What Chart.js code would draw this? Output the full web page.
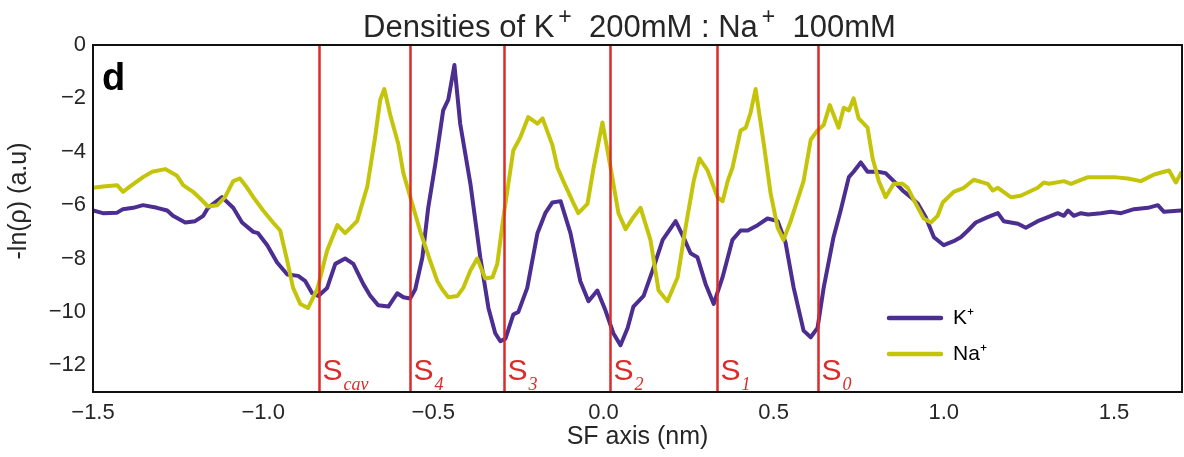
<!DOCTYPE html>
<html>
<head>
<meta charset="utf-8">
<title>Densities of K+ 200mM : Na+ 100mM</title>
<script src="https://cdn.jsdelivr.net/npm/chart.js@4.4.1/dist/chart.umd.min.js"></script>
<style>
  html, body { margin: 0; padding: 0; background: #fff; }
  canvas { display: block; }
</style>
</head>
<body>
<canvas id="densities" width="1184" height="457"></canvas>
<script>
'use strict';

// Position along the SF axis (nm) and -ln(rho) for K+
const kAxis = [
    -1.500, -1.471, -1.429, -1.412, -1.382, -1.353, -1.312, -1.282, -1.265, -1.229,
    -1.200, -1.176, -1.162, -1.121, -1.088, -1.062, -1.029, -1.015, -0.988, -0.959,
    -0.929, -0.897, -0.876, -0.856, -0.838, -0.812, -0.788, -0.759, -0.735, -0.706,
    -0.685, -0.662, -0.632, -0.606, -0.588, -0.568, -0.553, -0.532, -0.515, -0.494,
    -0.471, -0.456, -0.438, -0.421, -0.391, -0.362, -0.338, -0.318, -0.303, -0.288,
    -0.265, -0.250, -0.224, -0.194, -0.171, -0.150, -0.126, -0.097, -0.068, -0.044,
    -0.018, 0.006, 0.029, 0.050, 0.071, 0.088, 0.118, 0.147, 0.174, 0.212,
    0.235, 0.256, 0.276, 0.300, 0.324, 0.350, 0.379, 0.403, 0.424, 0.453,
    0.482, 0.512, 0.535, 0.559, 0.588, 0.609, 0.629, 0.647, 0.676, 0.697,
    0.721, 0.735, 0.756, 0.776, 0.806, 0.829, 0.853, 0.879, 0.903, 0.924,
    0.947, 0.971, 1.000, 1.029, 1.050, 1.071, 1.094, 1.129, 1.159, 1.176,
    1.218, 1.241, 1.276, 1.306, 1.335, 1.353, 1.365, 1.382, 1.403, 1.424,
    1.462, 1.491, 1.521, 1.559, 1.600, 1.629, 1.647, 1.697
];
const kDensity = [
    -6.20, -6.30, -6.28, -6.15, -6.10, -6.00, -6.10, -6.20, -6.40, -6.65,
    -6.60, -6.40, -6.10, -5.70, -6.10, -6.65, -7.00, -7.05, -7.50, -8.15,
    -8.60, -8.65, -8.85, -9.30, -9.40, -9.10, -8.20, -8.00, -8.20, -8.95,
    -9.40, -9.75, -9.80, -9.30, -9.45, -9.50, -9.15, -7.95, -6.10, -4.45,
    -2.45, -2.05, -0.75, -2.95, -5.20, -7.95, -9.85, -10.80, -11.10, -11.00,
    -10.10, -10.00, -9.10, -7.05, -6.30, -5.90, -5.85, -7.05, -8.85, -9.60,
    -9.20, -9.95, -10.80, -11.25, -10.60, -9.80, -9.40, -8.35, -7.30, -6.60,
    -7.20, -7.80, -7.95, -8.95, -9.70, -8.70, -7.30, -6.95, -6.95, -6.75,
    -6.50, -6.60, -7.40, -9.10, -10.70, -10.95, -10.60, -9.10, -7.20, -6.20,
    -4.95, -4.75, -4.40, -4.75, -4.75, -4.80, -5.10, -5.45, -5.70, -5.95,
    -6.45, -7.20, -7.50, -7.35, -7.20, -6.95, -6.65, -6.45, -6.30, -6.60,
    -6.70, -6.85, -6.60, -6.45, -6.30, -6.40, -6.20, -6.40, -6.30, -6.35,
    -6.30, -6.25, -6.30, -6.15, -6.10, -6.00, -6.25, -6.20
];

// Position along the SF axis (nm) and -ln(rho) for Na+
const naAxis = [
    -1.500, -1.471, -1.429, -1.412, -1.391, -1.353, -1.326, -1.288, -1.253, -1.235,
    -1.206, -1.185, -1.162, -1.135, -1.112, -1.088, -1.068, -1.047, -1.029, -1.000,
    -0.971, -0.950, -0.929, -0.912, -0.891, -0.868, -0.841, -0.812, -0.782, -0.759,
    -0.724, -0.694, -0.671, -0.656, -0.644, -0.626, -0.603, -0.588, -0.562, -0.538,
    -0.509, -0.488, -0.474, -0.456, -0.429, -0.412, -0.391, -0.371, -0.347, -0.326,
    -0.312, -0.294, -0.265, -0.244, -0.221, -0.194, -0.179, -0.150, -0.135, -0.118,
    -0.091, -0.074, -0.047, -0.029, -0.003, 0.021, 0.044, 0.065, 0.088, 0.109,
    0.138, 0.162, 0.188, 0.218, 0.241, 0.265, 0.282, 0.306, 0.335, 0.350,
    0.365, 0.379, 0.403, 0.418, 0.432, 0.447, 0.471, 0.491, 0.512, 0.529,
    0.550, 0.588, 0.609, 0.629, 0.647, 0.665, 0.691, 0.706, 0.721, 0.735,
    0.750, 0.776, 0.791, 0.809, 0.829, 0.853, 0.879, 0.894, 0.918, 0.941,
    0.962, 0.982, 0.997, 1.029, 1.059, 1.088, 1.129, 1.144, 1.159, 1.197,
    1.226, 1.276, 1.294, 1.309, 1.353, 1.374, 1.403, 1.424, 1.462, 1.500,
    1.541, 1.579, 1.618, 1.647, 1.662, 1.682, 1.697
];
const naDensity = [
    -5.35, -5.30, -5.25, -5.50, -5.30, -4.95, -4.75, -4.65, -4.90, -5.25,
    -5.50, -5.75, -6.05, -6.00, -5.70, -5.10, -5.00, -5.35, -5.70, -6.20,
    -6.65, -6.95, -8.10, -9.10, -9.70, -9.85, -9.15, -7.70, -6.75, -7.05,
    -6.60, -5.30, -3.45, -2.05, -1.65, -2.65, -3.70, -4.80, -5.95, -7.00,
    -8.10, -8.85, -9.15, -9.45, -9.40, -9.10, -8.45, -8.00, -8.75, -8.70,
    -8.20, -6.45, -3.95, -3.45, -2.70, -2.95, -2.75, -3.75, -4.60, -5.10,
    -5.85, -6.30, -5.95, -4.60, -2.90, -4.60, -6.30, -6.90, -6.45, -6.10,
    -7.30, -9.20, -9.60, -8.70, -6.85, -5.10, -4.25, -4.70, -5.70, -5.85,
    -5.10, -4.60, -3.20, -3.10, -2.55, -1.65, -3.70, -5.55, -6.85, -7.30,
    -6.60, -5.10, -3.55, -3.20, -3.00, -2.25, -3.10, -2.35, -2.45, -2.00,
    -2.75, -3.10, -4.25, -5.10, -5.70, -5.20, -5.20, -5.35, -5.95, -6.50,
    -6.65, -6.40, -5.90, -5.50, -5.35, -5.05, -5.20, -5.45, -5.35, -5.70,
    -5.65, -5.35, -5.15, -5.20, -5.10, -5.20, -5.05, -4.95, -4.95, -4.95,
    -5.00, -5.10, -4.85, -4.75, -4.70, -5.15, -4.80
];

// Binding sites along the filter
const siteNames = ['cav', '4', '3', '2', '1', '0'];
const sitePositions = [-0.835, -0.568, -0.291, 0.018, 0.335, 0.629];

const xTicks = [-1.5, -1.0, -0.5, 0.0, 0.5, 1.0, 1.5];
const xTickLabels = ['\u22121.5', '\u22121.0', '\u22120.5', '0.0', '0.5', '1.0', '1.5'];
const yTicks = [0, -2, -4, -6, -8, -10, -12];
const yTickLabels = ['0', '\u22122', '\u22124', '\u22126', '\u22128', '\u221210', '\u221212'];

const SANS = '"Liberation Sans", Arial, sans-serif';
const TEXT = '#262626';
const SITE_RED = '#dd2a2a';

function toPoints(xs, ys) {
    return xs.map((x, i) => ({ x: x, y: ys[i] }));
}

// Vertical site markers with S-labels (subscript in math italic)
const siteLines = {
    id: 'siteLines',
    afterDatasetsDraw(chart) {
        const { ctx, chartArea: area, scales: { x } } = chart;
        ctx.save();
        ctx.strokeStyle = SITE_RED;
        ctx.fillStyle = SITE_RED;
        ctx.lineWidth = 2.5;
        sitePositions.forEach((pos, i) => {
            const px = Math.round(x.getPixelForValue(pos)) + 0.5;
            ctx.beginPath();
            ctx.moveTo(px, area.top);
            ctx.lineTo(px, area.bottom);
            ctx.stroke();

            ctx.textAlign = 'left';
            ctx.textBaseline = 'alphabetic';
            ctx.font = '30px ' + SANS;
            ctx.fillText('S', px + 3, area.bottom - 12);
            const sw = ctx.measureText('S').width;
            ctx.font = 'italic 18px "Liberation Serif", "DejaVu Serif", serif';
            ctx.fillText(siteNames[i], px + 4 + sw, area.bottom - 2);
        });
        ctx.restore();
    }
};

// Axes frame, panel letter, titles and inset legend
const panelDecor = {
    id: 'panelDecor',
    afterDraw(chart) {
        const { ctx, chartArea: area } = chart;
        ctx.save();

        ctx.strokeStyle = '#111';
        ctx.lineWidth = 2;
        ctx.strokeRect(area.left, area.top, area.right - area.left, area.bottom - area.top);

        ctx.fillStyle = '#000';
        ctx.font = 'bold 38px ' + SANS;
        ctx.textAlign = 'left';
        ctx.textBaseline = 'alphabetic';
        ctx.fillText('d', area.left + 9, area.top + 45);

        // title with raised "+" signs
        const parts = [
            { t: 'Densities of K', sup: false },
            { t: '+', sup: true },
            { t: '  200mM : Na', sup: false },
            { t: '+', sup: true },
            { t: '  100mM', sup: false }
        ];
        const mainFont = '31px ' + SANS;
        const supFont = '23px ' + SANS;
        let total = 0;
        parts.forEach(p => {
            ctx.font = p.sup ? supFont : mainFont;
            p.w = ctx.measureText(p.t).width + (p.sup ? 4 : 0);
            total += p.w;
        });
        let tx = (area.left + area.right) / 2 - 8 - total / 2;
        const baseline = 37;
        ctx.fillStyle = TEXT;
        parts.forEach(p => {
            ctx.font = p.sup ? supFont : mainFont;
            ctx.fillText(p.t, tx + (p.sup ? 4 : 0), p.sup ? baseline - 13 : baseline);
            tx += p.w;
        });

        // y axis label
        ctx.save();
        ctx.translate(19, 201);
        ctx.rotate(-Math.PI / 2);
        ctx.font = '25px ' + SANS;
        ctx.textAlign = 'center';
        ctx.textBaseline = 'middle';
        ctx.fillText('-ln(\u03C1) (a.u)', 0, 0);
        ctx.restore();

        // legend in the lower right of the plot
        const rows = [318, 354];
        chart.data.datasets.forEach((ds, i) => {
            const y = rows[i];
            ctx.strokeStyle = ds.borderColor;
            ctx.lineWidth = 4.5;
            ctx.lineCap = 'round';
            ctx.beginPath();
            ctx.moveTo(889, y);
            ctx.lineTo(941, y);
            ctx.stroke();
            ctx.fillStyle = '#000';
            ctx.font = '21px ' + SANS;
            ctx.textAlign = 'left';
            ctx.textBaseline = 'middle';
            ctx.fillText(ds.label, 953, y);
        });

        ctx.restore();
    }
};

new Chart(document.getElementById('densities').getContext('2d'), {
    type: 'line',
    data: {
        datasets: [
            {
                label: 'K\u207A',
                data: toPoints(kAxis, kDensity),
                borderColor: '#4c2d91',
                borderWidth: 4,
                order: 2
            },
            {
                label: 'Na\u207A',
                data: toPoints(naAxis, naDensity),
                borderColor: '#c4c40b',
                borderWidth: 4,
                order: 1
            }
        ]
    },
    options: {
        responsive: false,
        devicePixelRatio: 1,
        animation: false,
        events: [],
        layout: { padding: { top: 45, right: 2, left: 0, bottom: 0 } },
        elements: {
            point: { radius: 0 },
            line: { tension: 0, borderJoinStyle: 'round', borderCapStyle: 'round' }
        },
        plugins: {
            legend: { display: false },
            title: { display: false },
            tooltip: { enabled: false }
        },
        scales: {
            x: {
                type: 'linear',
                min: -1.5,
                max: 1.7,
                grid: { display: false, drawTicks: false },
                border: { display: false },
                afterBuildTicks: s => { s.ticks = xTicks.map(v => ({ value: v })); },
                afterFit: s => { s.height = 65; },
                ticks: {
                    color: TEXT,
                    padding: 8,
                    maxRotation: 0,
                    font: { size: 22, family: SANS },
                    callback: (v, i) => xTickLabels[i]
                },
                title: {
                    display: true,
                    text: 'SF axis (nm)',
                    color: TEXT,
                    font: { size: 25, family: SANS },
                    padding: { top: 0, bottom: 5 }
                }
            },
            y: {
                type: 'linear',
                min: -13,
                max: 0,
                grid: { display: false, drawTicks: false },
                border: { display: false },
                afterBuildTicks: s => { s.ticks = yTicks.map(v => ({ value: v })); },
                afterFit: s => { s.width = 93; },
                ticks: {
                    color: TEXT,
                    padding: 7,
                    font: { size: 22, family: SANS },
                    callback: (v, i) => yTickLabels[i]
                }
            }
        }
    },
    plugins: [siteLines, panelDecor]
});
</script>
</body>
</html>
